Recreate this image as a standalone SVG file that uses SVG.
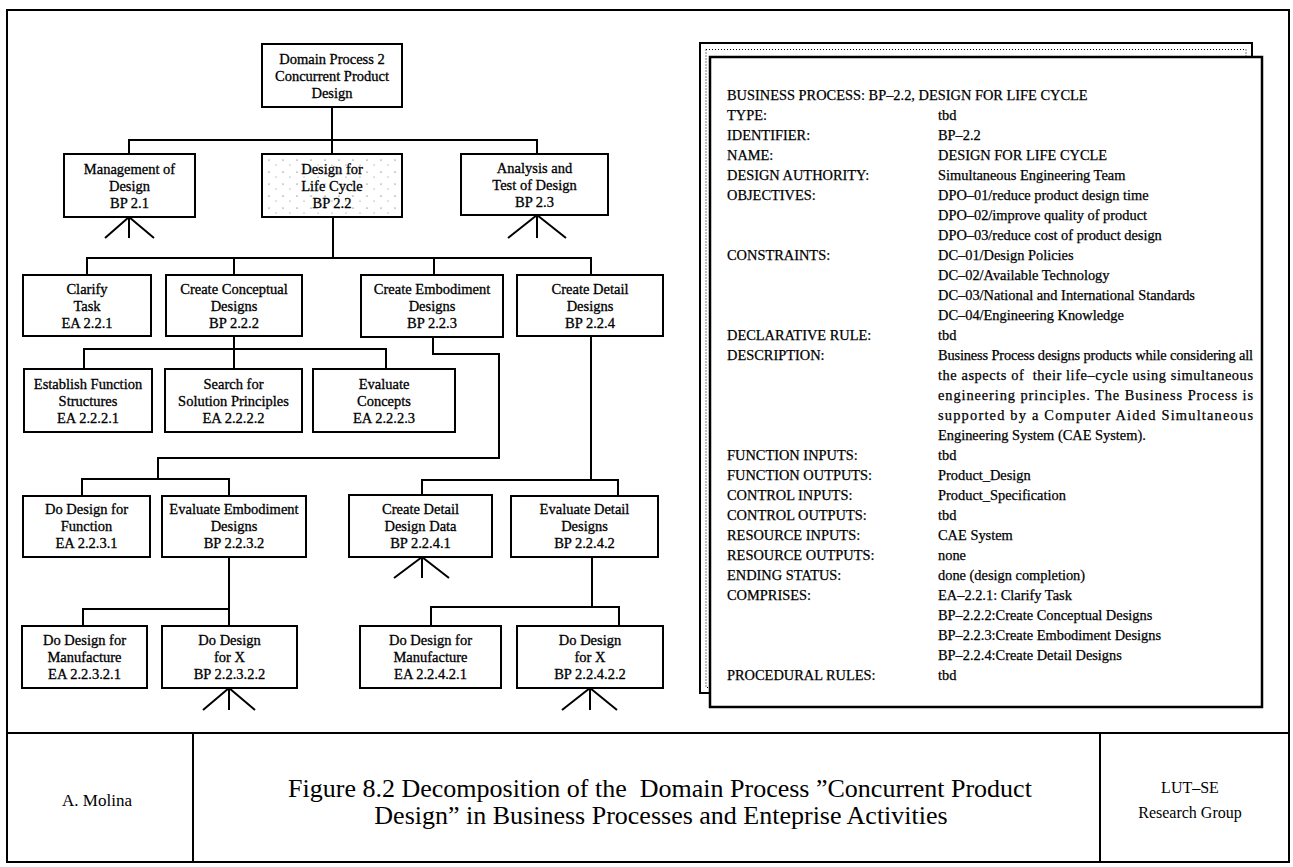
<svg xmlns="http://www.w3.org/2000/svg" width="1293" height="867" viewBox="0 0 1293 867">
  <defs>
    <style>
      .frame { fill: none; stroke: #000; stroke-width: 2; }
      .box { fill: #fff; stroke: #000; stroke-width: 2; }
      .ln { fill: none; stroke: #000; stroke-width: 2; stroke-linejoin: miter; }
      .nt { font-family: "Liberation Serif", "Times New Roman", serif; font-size: 14.5px; text-anchor: middle; fill: #000; stroke: #000; stroke-width: 0.3px; }
      .pt { font-family: "Liberation Serif", "Times New Roman", serif; font-size: 14.4px; fill: #000; stroke: #000; stroke-width: 0.25px; }
      .ft { font-family: "Liberation Serif", "Times New Roman", serif; fill: #000; text-anchor: middle; }
    </style>
    <pattern id="speck" width="14" height="12" patternUnits="userSpaceOnUse">
      <rect width="14" height="12" fill="#fff"/>
      <circle cx="3" cy="4" r="0.6" fill="#444"/>
      <circle cx="10" cy="9" r="0.5" fill="#666"/>
    </pattern>
  </defs>

  <!-- sheet frame and title block -->
  <g id="frame">
    <rect class="frame" x="7" y="10" width="1282" height="852"/>
    <line class="frame" x1="7" y1="733" x2="1289" y2="733"/>
    <line class="frame" x1="193" y1="733" x2="193" y2="862"/>
    <line class="frame" x1="1100" y1="733" x2="1100" y2="862"/>
  </g>

  <!-- connectors of the decomposition tree -->
  <g id="connectors">
    <path class="ln" d="M332 107 V154"/>
    <path class="ln" d="M129 154 V140 H537 V154"/>
    <path class="ln" d="M333 217 V258"/>
    <path class="ln" d="M87 275 V258 H591 V275"/>
    <path class="ln" d="M234 258 V275"/>
    <path class="ln" d="M434 258 V275"/>
    <path class="ln" d="M234 336 V369"/>
    <path class="ln" d="M84 369 V349 H386 V369"/>
    <path class="ln" d="M433 337 V354 H499 V458 H158 V479"/>
    <path class="ln" d="M82 496 V479 H229 V496"/>
    <path class="ln" d="M591 336 V480"/>
    <path class="ln" d="M422 495 V480 H618 V496"/>
    <path class="ln" d="M229 557 V609"/>
    <path class="ln" d="M83 626 V609 H229 V626"/>
    <path class="ln" d="M592 557 V607"/>
    <path class="ln" d="M431 626 V607 H619 V626"/>
    <!-- further decomposition markers -->
    <path class="ln" d="M129 217 V238 M129 217 L105 238 M129 217 L154 238"/>
    <path class="ln" d="M537 215 V238 M537 215 L508 238 M537 215 L566 238"/>
    <path class="ln" d="M422 557 V578 M422 557 L394 578 M422 557 L449 578"/>
    <path class="ln" d="M229 688 V710 M229 688 L203 710 M229 688 L255 710"/>
    <path class="ln" d="M590 688 V710 M590 688 L562 710 M590 688 L617 710"/>
  </g>

  <g id="dp2">
    <rect class="box" x="262" y="44" width="140" height="63"/>
    <text class="nt" x="332"><tspan x="332" y="63.5">Domain Process 2</tspan><tspan x="332" y="80.5">Concurrent Product</tspan><tspan x="332" y="97.5">Design</tspan></text>
  </g>
  <g id="bp2-1">
    <rect class="box" x="64" y="154" width="131" height="63"/>
    <text class="nt"><tspan x="129.5" y="173.5">Management of</tspan><tspan x="129.5" y="190.5">Design</tspan><tspan x="129.5" y="207.5">BP 2.1</tspan></text>
  </g>
  <g id="bp2-2">
    <rect class="box" x="262" y="154" width="140" height="63" style="fill:url(#speck)"/>
    <text class="nt"><tspan x="332" y="173.5">Design for</tspan><tspan x="332" y="190.5">Life Cycle</tspan><tspan x="332" y="207.5">BP 2.2</tspan></text>
  </g>
  <g id="bp2-3">
    <rect class="box" x="461" y="154" width="147" height="61"/>
    <text class="nt"><tspan x="534.5" y="173">Analysis and</tspan><tspan x="534.5" y="190">Test of Design</tspan><tspan x="534.5" y="207">BP 2.3</tspan></text>
  </g>

  <g id="ea2-2-1">
    <rect class="box" x="23" y="275" width="128" height="61"/>
    <text class="nt"><tspan x="87" y="294">Clarify</tspan><tspan x="87" y="311">Task</tspan><tspan x="87" y="328">EA 2.2.1</tspan></text>
  </g>
  <g id="bp2-2-2">
    <rect class="box" x="166" y="275" width="136" height="61"/>
    <text class="nt"><tspan x="234" y="294">Create Conceptual</tspan><tspan x="234" y="311">Designs</tspan><tspan x="234" y="328">BP 2.2.2</tspan></text>
  </g>
  <g id="bp2-2-3">
    <rect class="box" x="361" y="275" width="142" height="62"/>
    <text class="nt"><tspan x="432" y="294">Create Embodiment</tspan><tspan x="432" y="311">Designs</tspan><tspan x="432" y="328">BP 2.2.3</tspan></text>
  </g>
  <g id="bp2-2-4">
    <rect class="box" x="517" y="275" width="146" height="61"/>
    <text class="nt"><tspan x="590" y="294">Create Detail</tspan><tspan x="590" y="311">Designs</tspan><tspan x="590" y="328">BP 2.2.4</tspan></text>
  </g>

  <g id="ea2-2-2-1">
    <rect class="box" x="24" y="369" width="128" height="63"/>
    <text class="nt"><tspan x="88" y="389">Establish Function</tspan><tspan x="88" y="406">Structures</tspan><tspan x="88" y="423">EA 2.2.2.1</tspan></text>
  </g>
  <g id="ea2-2-2-2">
    <rect class="box" x="165" y="369" width="137" height="63"/>
    <text class="nt"><tspan x="233.5" y="389">Search for</tspan><tspan x="233.5" y="406">Solution Principles</tspan><tspan x="233.5" y="423">EA 2.2.2.2</tspan></text>
  </g>
  <g id="ea2-2-2-3">
    <rect class="box" x="313" y="369" width="142" height="63"/>
    <text class="nt"><tspan x="384" y="389">Evaluate</tspan><tspan x="384" y="406">Concepts</tspan><tspan x="384" y="423">EA 2.2.2.3</tspan></text>
  </g>

  <g id="ea2-2-3-1">
    <rect class="box" x="23" y="496" width="127" height="61"/>
    <text class="nt"><tspan x="86.5" y="514">Do Design for</tspan><tspan x="86.5" y="531">Function</tspan><tspan x="86.5" y="548">EA 2.2.3.1</tspan></text>
  </g>
  <g id="bp2-2-3-2">
    <rect class="box" x="162" y="496" width="144" height="61"/>
    <text class="nt"><tspan x="234" y="514">Evaluate Embodiment</tspan><tspan x="234" y="531">Designs</tspan><tspan x="234" y="548">BP 2.2.3.2</tspan></text>
  </g>
  <g id="bp2-2-4-1">
    <rect class="box" x="349" y="495" width="143" height="62"/>
    <text class="nt"><tspan x="420.5" y="514">Create Detail</tspan><tspan x="420.5" y="531">Design Data</tspan><tspan x="420.5" y="548">BP 2.2.4.1</tspan></text>
  </g>
  <g id="bp2-2-4-2">
    <rect class="box" x="511" y="496" width="147" height="61"/>
    <text class="nt"><tspan x="584.5" y="514">Evaluate Detail</tspan><tspan x="584.5" y="531">Designs</tspan><tspan x="584.5" y="548">BP 2.2.4.2</tspan></text>
  </g>

  <g id="ea2-2-3-2-1">
    <rect class="box" x="22" y="626" width="125" height="62"/>
    <text class="nt"><tspan x="84.5" y="645">Do Design for</tspan><tspan x="84.5" y="662">Manufacture</tspan><tspan x="84.5" y="679">EA 2.2.3.2.1</tspan></text>
  </g>
  <g id="bp2-2-3-2-2">
    <rect class="box" x="162" y="626" width="135" height="62"/>
    <text class="nt"><tspan x="229.5" y="645">Do Design</tspan><tspan x="229.5" y="662">for X</tspan><tspan x="229.5" y="679">BP 2.2.3.2.2</tspan></text>
  </g>
  <g id="ea2-2-4-2-1">
    <rect class="box" x="360" y="626" width="141" height="62"/>
    <text class="nt"><tspan x="430.5" y="645">Do Design for</tspan><tspan x="430.5" y="662">Manufacture</tspan><tspan x="430.5" y="679">EA 2.2.4.2.1</tspan></text>
  </g>
  <g id="bp2-2-4-2-2">
    <rect class="box" x="517" y="626" width="146" height="62"/>
    <text class="nt"><tspan x="590" y="645">Do Design</tspan><tspan x="590" y="662">for X</tspan><tspan x="590" y="679">BP 2.2.4.2.2</tspan></text>
  </g>

  <!-- business process description sheet -->
  <g id="bp-sheet">
    <rect x="700" y="43" width="552" height="650" fill="#fff" stroke="#000" stroke-width="2"/>
    <rect x="706" y="49.5" width="540" height="638" fill="none" stroke="#000" stroke-width="1" stroke-dasharray="1 2"/>
    <rect x="710" y="57" width="552" height="650" fill="#fff" stroke="#000" stroke-width="2.5"/>
    <text class="pt" x="727" y="100">BUSINESS PROCESS: BP–2.2, DESIGN FOR LIFE CYCLE</text>
    <g>
      <text class="pt" x="727" y="120">TYPE:</text>
      <text class="pt" x="727" y="140">IDENTIFIER:</text>
      <text class="pt" x="727" y="160">NAME:</text>
      <text class="pt" x="727" y="180">DESIGN AUTHORITY:</text>
      <text class="pt" x="727" y="200">OBJECTIVES:</text>
      <text class="pt" x="727" y="260">CONSTRAINTS:</text>
      <text class="pt" x="727" y="340">DECLARATIVE RULE:</text>
      <text class="pt" x="727" y="360">DESCRIPTION:</text>
      <text class="pt" x="727" y="460">FUNCTION INPUTS:</text>
      <text class="pt" x="727" y="480">FUNCTION OUTPUTS:</text>
      <text class="pt" x="727" y="500">CONTROL INPUTS:</text>
      <text class="pt" x="727" y="520">CONTROL OUTPUTS:</text>
      <text class="pt" x="727" y="540">RESOURCE INPUTS:</text>
      <text class="pt" x="727" y="560">RESOURCE OUTPUTS:</text>
      <text class="pt" x="727" y="580">ENDING STATUS:</text>
      <text class="pt" x="727" y="600">COMPRISES:</text>
      <text class="pt" x="727" y="680">PROCEDURAL RULES:</text>
    </g>
    <g>
      <text class="pt" x="938" y="120">tbd</text>
      <text class="pt" x="938" y="140">BP–2.2</text>
      <text class="pt" x="938" y="160">DESIGN FOR LIFE CYCLE</text>
      <text class="pt" x="938" y="180">Simultaneous Engineering Team</text>
      <text class="pt" x="938" y="200">DPO–01/reduce product design time</text>
      <text class="pt" x="938" y="220">DPO–02/improve quality of product</text>
      <text class="pt" x="938" y="240">DPO–03/reduce cost of product design</text>
      <text class="pt" x="938" y="260">DC–01/Design Policies</text>
      <text class="pt" x="938" y="280">DC–02/Available Technology</text>
      <text class="pt" x="938" y="300">DC–03/National and International Standards</text>
      <text class="pt" x="938" y="320">DC–04/Engineering Knowledge</text>
      <text class="pt" x="938" y="340">tbd</text>
      <text class="pt" x="938" y="360" textLength="315" lengthAdjust="spacing">Business Process designs products while considering all</text>
      <text class="pt" x="938" y="380" textLength="315" lengthAdjust="spacing" xml:space="preserve">the aspects of  their life–cycle using simultaneous</text>
      <text class="pt" x="938" y="400" textLength="315" lengthAdjust="spacing">engineering principles. The Business Process is</text>
      <text class="pt" x="938" y="420" textLength="315" lengthAdjust="spacing">supported by a Computer Aided Simultaneous</text>
      <text class="pt" x="938" y="440">Engineering System (CAE System).</text>
      <text class="pt" x="938" y="460">tbd</text>
      <text class="pt" x="938" y="480">Product_Design</text>
      <text class="pt" x="938" y="500">Product_Specification</text>
      <text class="pt" x="938" y="520">tbd</text>
      <text class="pt" x="938" y="540">CAE System</text>
      <text class="pt" x="938" y="560">none</text>
      <text class="pt" x="938" y="580">done (design completion)</text>
      <text class="pt" x="938" y="600">EA–2.2.1: Clarify Task</text>
      <text class="pt" x="938" y="620">BP–2.2.2:Create Conceptual Designs</text>
      <text class="pt" x="938" y="640">BP–2.2.3:Create Embodiment Designs</text>
      <text class="pt" x="938" y="660">BP–2.2.4:Create Detail Designs</text>
      <text class="pt" x="938" y="680">tbd</text>
    </g>
  </g>

  <!-- title block texts -->
  <g id="title-block">
    <text class="ft" x="97" y="806" font-size="17">A. Molina</text>
    <text class="ft" x="660" y="797" font-size="26" xml:space="preserve">Figure 8.2 Decomposition of the  Domain Process ”Concurrent Product</text>
    <text class="ft" x="661" y="824" font-size="26">Design” in Business Processes and Enteprise Activities</text>
    <text class="ft" x="1190" y="793" font-size="16">LUT–SE</text>
    <text class="ft" x="1190" y="818" font-size="16">Research Group</text>
  </g>
</svg>
